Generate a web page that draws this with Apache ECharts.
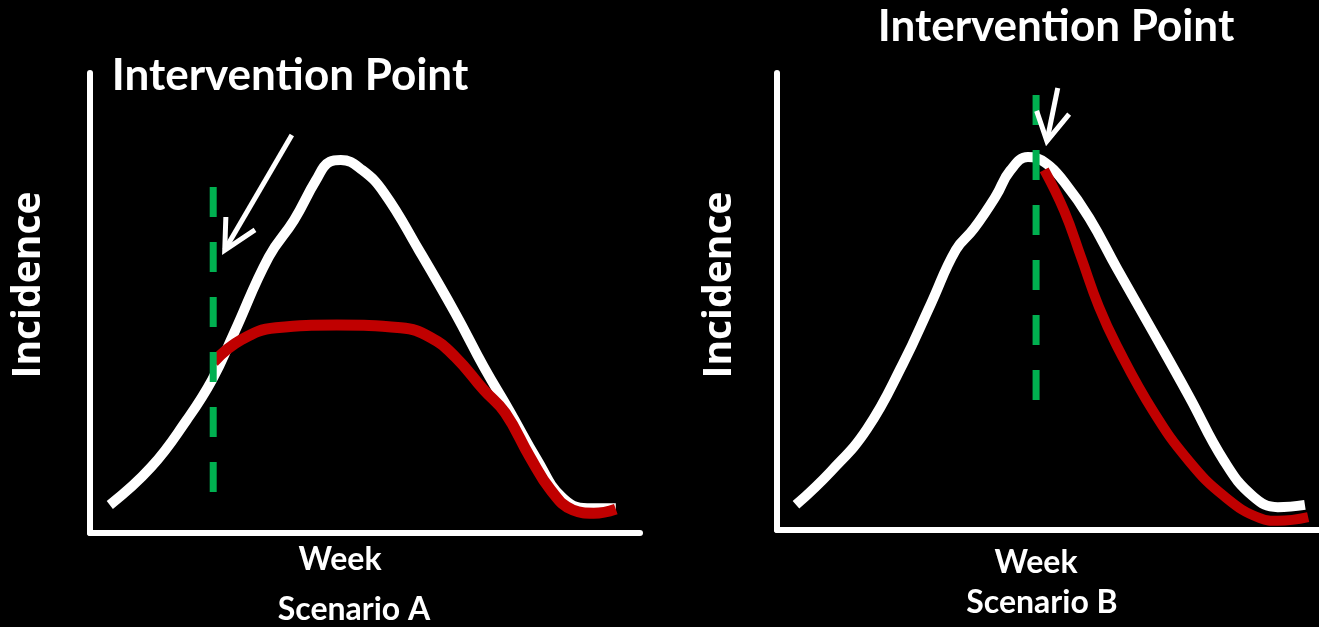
<!DOCTYPE html>
<html>
<head>
    <meta charset="utf-8">
    <title>Intervention Point</title>
    <script src="https://cdn.jsdelivr.net/npm/echarts@6/dist/echarts.min.js"></script>
</head>
<body style="margin: 0; background: #000">
    <div id="container" style="width: 1319px; height: 627px"></div>
    <script>
        // Scenario A: [week, incidence] (arbitrary 0-100 scale)
        var aNoIntervention = [[3.6, 6.1], [11.1, 14.3], [17.6, 24.6], [22.2, 33.3], [26.2, 43.5], [32.5, 60.0],
            [37.1, 68.0], [41.1, 76.7], [43.6, 80.7], [45.6, 81.1], [49.5, 78.9], [53.5, 73.9], [59.8, 61.5],
            [66.4, 47.8], [71.6, 36.1], [76.2, 26.7], [81.3, 15.9], [85.8, 7.8], [90.4, 5.4], [95.6, 5.4]];
        var aIntervention = [[22.5, 37.2], [27.5, 42.0], [33.8, 44.6], [44.9, 45.2], [56.5, 44.6], [61.8, 42.6],
            [66.4, 38.3], [71.6, 31.1], [75.5, 26.1], [80.0, 16.5], [83.8, 9.3], [87.8, 5.0], [91.6, 4.3], [95.6, 5.2]];
        var aMarker = [[22.4, 75.2], [22.4, 8.3]];
        var aArrowShaft = [[36.7, 86.5], [24.5, 61.5]];
        var aArrowHead = [[30.0, 65.9], [24.5, 61.5], [24.7, 68.7]];

        // Scenario B
        var bNoIntervention = [[3.5, 5.5], [10.0, 12.9], [16.6, 22.1], [23.2, 36.3], [28.4, 49.5], [33.0, 61.3],
            [36.3, 65.9], [40.4, 73.1], [43.0, 78.6], [46.3, 81.6], [49.6, 80.3], [53.0, 76.1], [57.6, 68.3],
            [62.7, 57.3], [69.4, 43.3], [76.0, 29.3], [82.5, 15.1], [87.8, 7.4], [92.4, 5.0], [97.4, 5.5]];
        var bIntervention = [[49.3, 78.8], [53.0, 69.8], [56.1, 59.7], [59.4, 48.8], [62.7, 40.3], [69.4, 26.0],
            [76.0, 15.1], [82.5, 7.4], [89.1, 2.6], [92.4, 2.0], [98.0, 2.8]];
        var bMarker = [[47.8, 95.2], [47.8, 28.0]];
        var bArrowShaft = [[51.8, 96.7], [49.8, 85.1]];
        var bArrowHead = [[47.9, 91.7], [49.8, 85.1], [53.9, 91.0]];

        var myChart = echarts.init(document.getElementById('container'), null, { renderer: 'canvas' });

        function axis(idx) {
            return {
                type: 'value', gridIndex: idx, min: 0, max: 100,
                axisLine: { show: true, onZero: false, lineStyle: { color: '#fff', width: 6 } },
                axisTick: { show: false }, axisLabel: { show: false }, splitLine: { show: false }
            };
        }

        function line(idx, data, color, width, extra) {
            var s = {
                type: 'line', xAxisIndex: idx, yAxisIndex: idx, data: data,
                smooth: 0.45, symbol: 'none', silent: true,
                lineStyle: { color: color, width: width, cap: 'butt', join: 'round' }
            };
            return Object.assign(s, extra || {});
        }

        function dashed(idx, data) {
            return line(idx, data, '#00b050', 7, {
                smooth: false,
                lineStyle: { color: '#00b050', width: 7, type: [30, 25], cap: 'butt' }
            });
        }

        function arrow(idx, shaft, head) {
            return [
                line(idx, shaft, '#fff', 5, { smooth: false }),
                line(idx, head, '#fff', 5, { smooth: false, lineStyle: { color: '#fff', width: 5, join: 'miter' } })
            ];
        }

        var bold = 'bold 44px Lato';
        var label = 'bold 32px Lato';
        var yName = 'bold 39px "Open Sans"';

        function text(str, x, y, font, rotation) {
            return {
                type: 'text', x: x, y: y, rotation: rotation || 0, silent: true,
                style: { text: str, font: font, fill: '#fff', align: 'center', verticalAlign: 'middle' }
            };
        }

        var option = {
            backgroundColor: '#000',
            animation: false,
            grid: [
                { left: 90, top: 73, width: 550, height: 460 },
                { left: 777, top: 73, width: 542, height: 457 }
            ],
            xAxis: [axis(0), axis(1)],
            yAxis: [axis(0), axis(1)],
            series: [
                line(0, aNoIntervention, '#fff', 10),
                line(0, aIntervention, '#c00000', 11),
                dashed(0, aMarker)
            ].concat(arrow(0, aArrowShaft, aArrowHead)).concat([
                line(1, bNoIntervention, '#fff', 10),
                line(1, bIntervention, '#c00000', 10),
                dashed(1, bMarker)
            ]).concat(arrow(1, bArrowShaft, bArrowHead)),
            graphic: [
                text('Intervention Point', 290, 76, bold),
                text('Incidence', 29, 285, yName, Math.PI / 2),
                text('Week', 340, 560, label),
                text('Scenario A', 354, 610, label),
                text('Intervention Point', 1056, 27, bold),
                text('Incidence', 720, 285, yName, Math.PI / 2),
                text('Week', 1036, 563, label),
                text('Scenario B', 1042, 603, label)
            ]
        };

        myChart.setOption(option);
        window.addEventListener('resize', myChart.resize);
    </script>
</body>
</html>
